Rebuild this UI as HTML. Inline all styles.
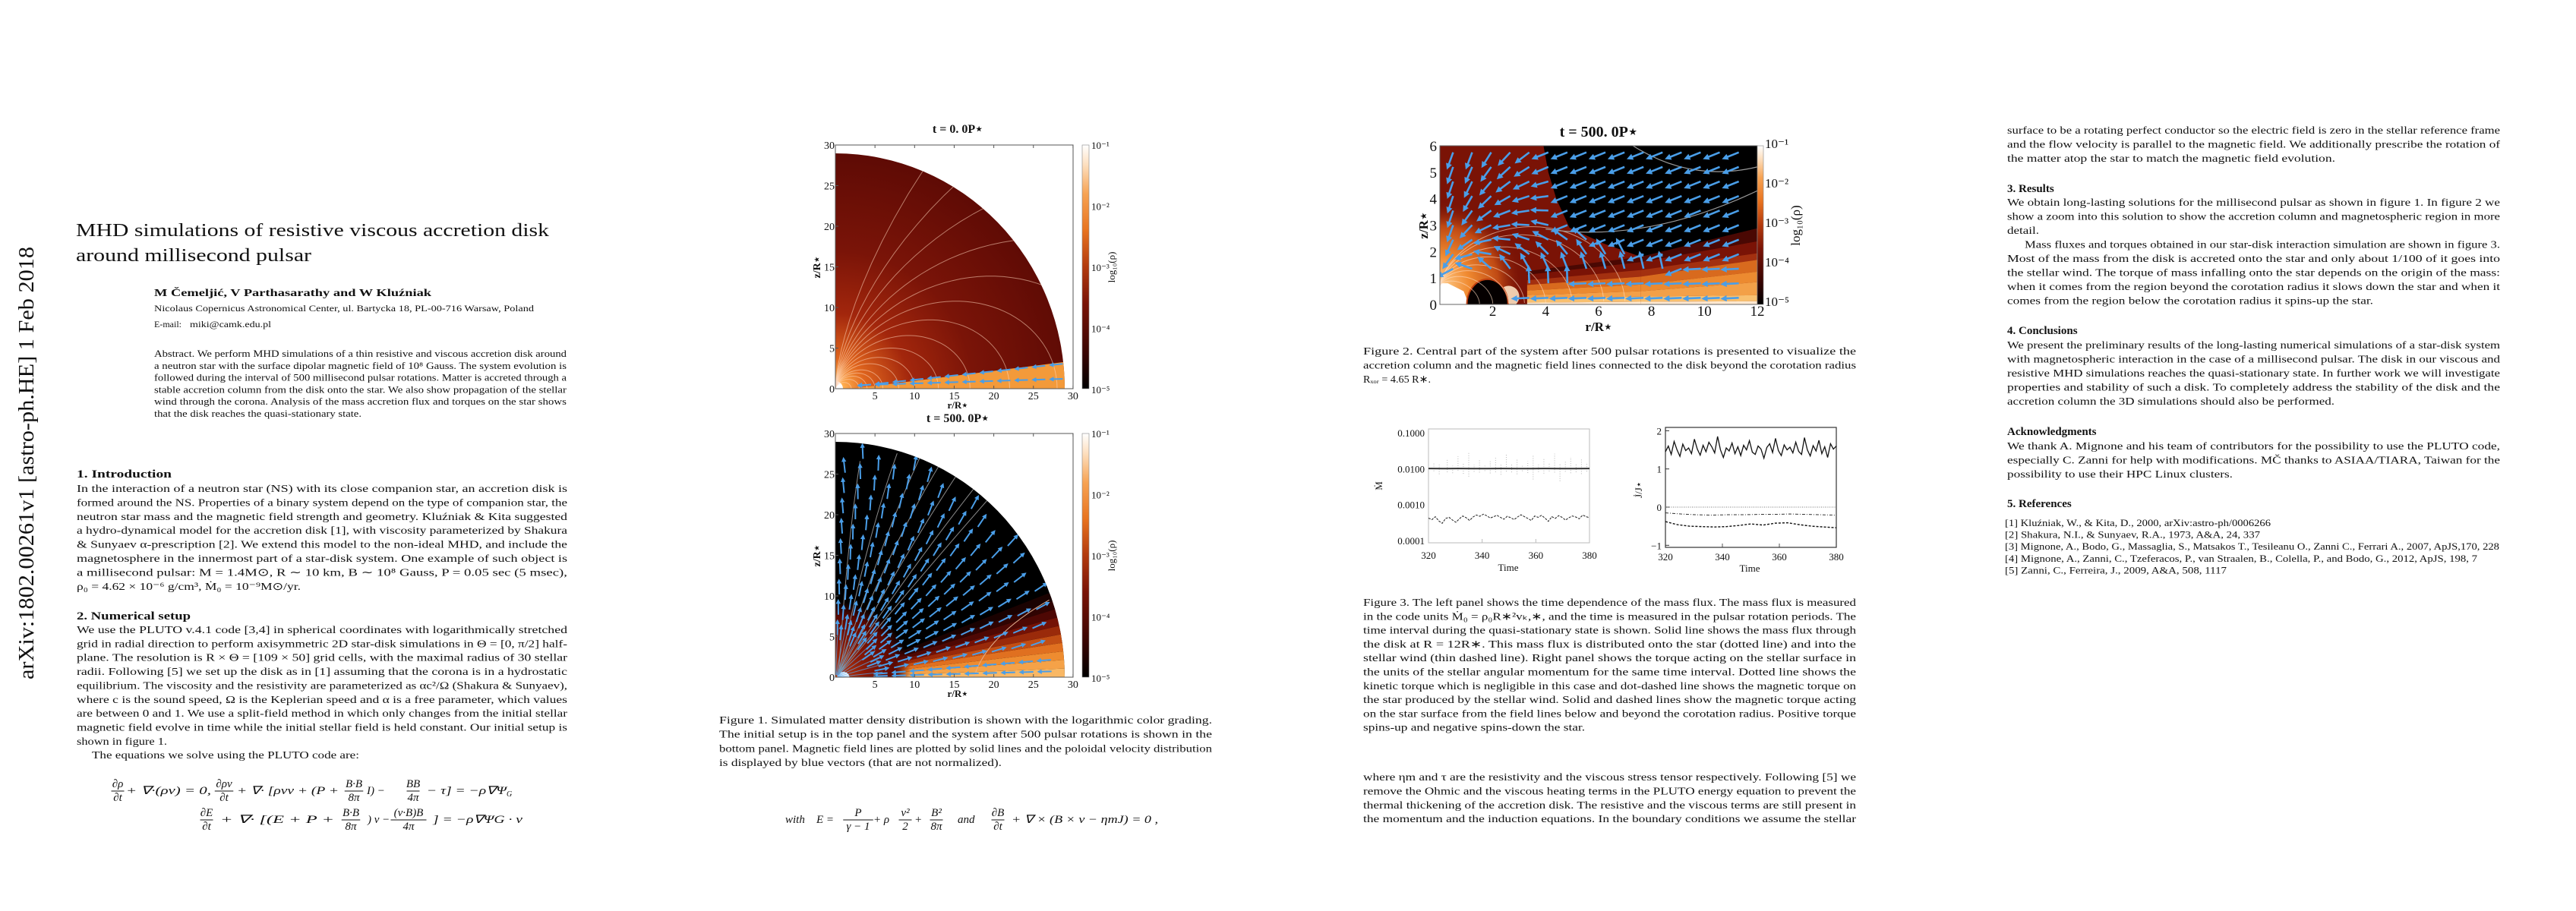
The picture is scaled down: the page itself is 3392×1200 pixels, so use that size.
<!DOCTYPE html>
<html><head><meta charset="utf-8"><title>MHD simulations of resistive viscous accretion disk</title>
<style>
html,body{margin:0;padding:0;background:#fff;}
svg{display:block;}
text{font-family:"Liberation Serif",serif;fill:#111;}
</style></head>
<body>
<svg id="page" xmlns="http://www.w3.org/2000/svg" width="3392" height="1200" viewBox="0 0 3392 1200">
<defs>
<linearGradient id="cbar" x1="0" y1="1" x2="0" y2="0">
<stop offset="0" stop-color="#000"/><stop offset="0.15" stop-color="#3a0502"/><stop offset="0.35" stop-color="#7a1306"/><stop offset="0.5" stop-color="#b23a0e"/><stop offset="0.65" stop-color="#e8731f"/><stop offset="0.8" stop-color="#f7a354"/><stop offset="0.92" stop-color="#fde0c0"/><stop offset="1" stop-color="#fff"/>
</linearGradient>
<radialGradient id="topgrad" gradientUnits="userSpaceOnUse" cx="1100" cy="512" r="330">
<stop offset="0" stop-color="#fff3d0"/><stop offset="0.03" stop-color="#ffb050"/><stop offset="0.12" stop-color="#e0661e"/><stop offset="0.3" stop-color="#a2260c"/><stop offset="0.55" stop-color="#7a1408"/><stop offset="1" stop-color="#5a0904"/>
</radialGradient>
<radialGradient id="botglow" gradientUnits="userSpaceOnUse" cx="1100" cy="892" r="100">
<stop offset="0" stop-color="#c04010"/><stop offset="0.4" stop-color="#8a1a08"/><stop offset="0.8" stop-color="#5a0904"/><stop offset="1" stop-color="#5a0904" stop-opacity="0"/>
</radialGradient>
<radialGradient id="f2glow" gradientUnits="userSpaceOnUse" cx="1896" cy="375" r="110">
<stop offset="0" stop-color="#ffd090"/><stop offset="0.35" stop-color="#f08a30"/><stop offset="0.7" stop-color="#c04a14"/><stop offset="1" stop-color="#7a1306" stop-opacity="0"/>
</radialGradient>
<marker id="ah" viewBox="0 0 10 10" refX="6" refY="5" markerWidth="3.2" markerHeight="3.2" orient="auto"><path d="M0,0 L10,5 L0,10 z" fill="#4a9ee8"/></marker>
<clipPath id="q1"><path d="M1100,512 L1100,202 A302,310 0 0 1 1402,512 Z"/></clipPath>
<clipPath id="q2"><path d="M1100,892 L1100,582 A302,310 0 0 1 1402,892 Z"/></clipPath>
<clipPath id="f2c"><rect x="1896" y="192" width="418" height="209"/></clipPath>
</defs>
<g id="layer"></g>
</svg>
<script>
// ---------- Figure 3 data ----------
const timeRange = [320, 380];
const mdotTicks = ["0.1000", "0.0100", "0.0010", "0.0001"];
const mdotTickVals = [0.1, 0.01, 0.001, 0.0001];
const timeTicks = [320, 340, 360, 380];
const torqueTicks = [2, 1, 0, -1];
const mdotDisk = [0.0101, 0.0100, 0.0101, 0.0100, 0.0100, 0.0101, 0.0100, 0.0100, 0.0101, 0.0100, 0.0100, 0.0101];
const mdotWind = [0.00042,0.00038,0.00046,0.00035,0.00030,0.00041,0.00044,0.00037,0.00032,0.00040,0.00048,0.00043,0.00036,0.00045,0.00051,0.00047,0.00054,0.00049,0.00042,0.00046,0.00050,0.00044,0.00039,0.00047,0.00043,0.00038,0.00045,0.00052,0.00046,0.00041,0.00036,0.00048,0.00044,0.00050,0.00042,0.00034,0.00046,0.00041,0.00049,0.00044,0.00037,0.00043,0.00048,0.00045,0.00040,0.00051,0.00046,0.00043];
const starSpikeT = [322,324,327,329,331,333,335,337,339,341,343,345,347,349,351,353,355,357,359,361,363,365,367,369,371,373,375,377,379];
const starSpikeLo = [0.0085,0.0070,0.0080,0.0075,0.0088,0.0072,0.0060,0.0082,0.0078,0.0086,0.0074,0.0080,0.0068,0.0083,0.0079,0.0070,0.0085,0.0076,0.0050,0.0081,0.0073,0.0084,0.0078,0.0045,0.0082,0.0075,0.0080,0.0071,0.0083];
const starSpikeHi = [0.015,0.013,0.018,0.012,0.022,0.014,0.030,0.013,0.017,0.012,0.016,0.020,0.013,0.025,0.014,0.018,0.012,0.016,0.024,0.013,0.019,0.015,0.026,0.014,0.017,0.021,0.013,0.018,0.015];
const torqueSolid = [1.45,1.60,1.38,1.72,1.50,1.33,1.65,1.48,1.55,1.40,1.78,1.52,1.36,1.62,1.45,1.70,1.58,1.42,1.85,1.50,1.30,1.55,1.47,1.68,1.40,1.58,1.35,1.62,1.50,1.74,1.44,1.38,1.60,1.52,1.28,1.56,1.66,1.43,1.80,1.48,1.35,1.63,1.50,1.57,1.42,1.70,1.46,1.38,1.82,1.50,1.34,1.61,1.47,1.75,1.40,1.58,1.30,1.66,1.52,1.60];
const torqueDashed = [-0.38,-0.46,-0.50,-0.51,-0.52,-0.51,-0.48,-0.44,-0.47,-0.42,-0.41,-0.46,-0.50,-0.52,-0.54];
const torqueDotDash = [-0.15,-0.18,-0.20,-0.21,-0.20,-0.20,-0.19,-0.19,-0.18,-0.19,-0.20,-0.21];
const torqueDotted = [0, 0];
// ---------- colorbar / axis tick labels ----------
const cbarLabels = ["10\u207B\u00B9","10\u207B\u00B2","10\u207B\u00B3","10\u207B\u2074","10\u207B\u2075"];
const fig1Ticks = [0,5,10,15,20,25,30];
const fig2XTicks = [2,4,6,8,10,12];
const fig2YTicks = [0,1,2,3,4,5,6];

const NS = 'http://www.w3.org/2000/svg';
const root = document.getElementById('layer');
function mk(tag, attrs, name, parent) {
  const el = document.createElementNS(NS, tag);
  for (const k in attrs) el.setAttribute(k, attrs[k]);
  
  
  (parent || root).appendChild(el);
  return el;
}
function txt(x, y, s, size, o, name, parent) {
  o = o || {};
  const a = {x: x, y: y, 'font-size': size};
  if (o.anchor) a['text-anchor'] = o.anchor;
  if (o.weight) a['font-weight'] = o.weight;
  if (o.style) a['font-style'] = o.style;
  if (o.fill) a.fill = o.fill;
  if (o.family) a['font-family'] = o.family;
  if (o.len) { a.textLength = o.len; a.lengthAdjust = 'spacingAndGlyphs'; }
  if (o.rot) a.transform = 'rotate(' + o.rot + ' ' + x + ' ' + y + ')';
  const el = mk('text', a, name, parent);
  el.textContent = s;
  return el;
}
function lines(arr, x, y0, dy, w, size, name) {
  arr.forEach((l, i) => {
    const s = typeof l === 'string' ? l : l[0];
    const full = typeof l === 'string';
    const xx = (typeof l !== 'string' && l[2]) ? l[2] : x;
    const len = full ? w : (l[1] ? l[1] - xx : 0);
    txt(xx, y0 + i * dy, s, size, len ? {len: len} : {}, name);
  });
}

// ---------- side arXiv stamp ----------
txt(44, 895, 'arXiv:1802.00261v1  [astro-ph.HE]  1 Feb 2018', 29, {rot: -90, fill: '#8a8a8a', len: 570}, 'arxiv-stamp');

// ---------- left column ----------
txt(100, 311, 'MHD simulations of resistive viscous accretion disk', 24, {len: 623}, 'paper-title');
txt(100, 344, 'around millisecond pulsar', 24, {len: 310}, 'paper-title');
txt(203, 390, 'M \u010Cemelji\u0107, V Parthasarathy and W Klu\u017Aniak', 14, {weight: 'bold', len: 365}, 'authors');
txt(203, 410, 'Nicolaus Copernicus Astronomical Center, ul. Bartycka 18, PL-00-716 Warsaw, Poland', 12, {len: 500}, 'affiliation');
txt(203, 431, 'E-mail: ', 12, {}, 'email-label');
txt(250, 431, 'miki@camk.edu.pl', 12, {family: '"Liberation Mono",monospace', len: 107}, 'email-address');
lines([
 'Abstract.   We perform MHD simulations of a thin resistive and viscous accretion disk around',
 'a neutron star with the surface dipolar magnetic field of 10\u2078 Gauss. The system evolution is',
 'followed during the interval of 500 millisecond pulsar rotations. Matter is accreted through a',
 'stable accretion column from the disk onto the star. We also show propagation of the stellar',
 'wind through the corona. Analysis of the mass accretion flux and torques on the star shows',
 ['that the disk reaches the quasi-stationary state.', 476]
], 203, 470, 15.8, 543, 12.5, 'abstract-text');
txt(101, 629, '1. Introduction', 15, {weight: 'bold', len: 125}, 'section-heading');
lines([
 'In the interaction of a neutron star (NS) with its close companion star, an accretion disk is',
 'formed around the NS. Properties of a binary system depend on the type of companion star, the',
 'neutron star mass and the magnetic field strength and geometry. Klu\u017Aniak & Kita suggested',
 'a hydro-dynamical model for the accretion disk [1], with viscosity parameterized by Shakura',
 '& Sunyaev \u03B1-prescription [2]. We extend this model to the non-ideal MHD, and include the',
 'magnetosphere in the innermost part of a star-disk system. One example of such object is',
 'a millisecond pulsar: M = 1.4M\u2299, R \u223C 10 km, B \u223C 10\u2078 Gauss, P = 0.05 sec (5 msec),',
 ['\u03C1\u2080 = 4.62 \u00D7 10\u207B\u2076 g/cm\u00B3, \u1E40\u2080 = 10\u207B\u2079M\u2299/yr.', 396]
], 101, 648, 18.4, 646, 14, 'introduction-text');
txt(101, 816, '2. Numerical setup', 15, {weight: 'bold', len: 150}, 'section-heading');
lines([
 'We use the PLUTO v.4.1 code [3,4] in spherical coordinates with logarithmically stretched',
 'grid in radial direction to perform axisymmetric 2D star-disk simulations in \u0398 = [0, \u03C0/2] half-',
 'plane. The resolution is R \u00D7 \u0398 = [109 \u00D7 50] grid cells, with the maximal radius of 30 stellar',
 'radii. Following [5] we set up the disk as in [1] assuming that the corona is in a hydrostatic',
 'equilibrium. The viscosity and the resistivity are parameterized as \u03B1c\u00B2/\u03A9 (Shakura & Sunyaev),',
 'where c is the sound speed, \u03A9 is the Keplerian speed and \u03B1 is a free parameter, which values',
 'are between 0 and 1. We use a split-field method in which only changes from the initial stellar',
 'magnetic field evolve in time while the initial stellar field is held constant. Our initial setup is',
 ['shown in figure 1.', 220],
 ['The equations we solve using the PLUTO code are:', 473, 121]
], 101, 834, 18.35, 646, 14, 'setup-text');

function frac(xc, yc, num, den, size, name) {
  txt(xc, yc - 4, num, size, {anchor: 'middle', style: 'italic'}, name);
  txt(xc, yc + 14, den, size, {anchor: 'middle', style: 'italic'}, name);
  const w = Math.max(num.length, den.length) * size * 0.5 + 2;
  mk('line', {x1: xc - w / 2, x2: xc + w / 2, y1: yc + 1, y2: yc + 1, stroke: '#111', 'stroke-width': 0.9}, name + '-bar');
}
frac(155, 1041, '\u2202\u03C1', '\u2202t', 15, 'equation-continuity');
txt(166, 1046, '+ \u2207\u00B7(\u03C1v) = 0,', 15, {style: 'italic', len: 112}, 'equation-continuity');
frac(295, 1041, '\u2202\u03C1v', '\u2202t', 15, 'equation-momentum');
txt(312, 1046, '+ \u2207\u00B7 [\u03C1vv + (P +', 15, {style: 'italic', len: 134}, 'equation-momentum');
frac(466, 1041, 'B\u00B7B', '8\u03C0', 15, 'equation-momentum');
txt(483, 1046, 'I) \u2212', 15, {style: 'italic'}, 'equation-momentum');
frac(544, 1041, 'BB', '4\u03C0', 15, 'equation-momentum');
txt(562, 1046, '\u2212 \u03C4] = \u2212\u03C1\u2207\u03A8', 15, {style: 'italic', len: 105}, 'equation-momentum');
txt(667, 1049, 'G', 10, {style: 'italic'}, 'equation-momentum');
frac(272, 1079, '\u2202E', '\u2202t', 15, 'equation-energy');
txt(290, 1084, '+ \u2207\u00B7 [(E + P +', 15, {style: 'italic', len: 150}, 'equation-energy');
frac(462, 1079, 'B\u00B7B', '8\u03C0', 15, 'equation-energy');
txt(484, 1084, ') v \u2212', 15, {style: 'italic'}, 'equation-energy');
frac(538, 1079, '(v\u00B7B)B', '4\u03C0', 15, 'equation-energy');
txt(570, 1084, '] = \u2212\u03C1\u2207\u03A8G \u00B7 v', 15, {style: 'italic', len: 118}, 'equation-energy');

// ---------- Figure 1 ----------
function fig1Panel(y0, late, clip) {
  const X = r => 1100 + r * 10.43;
  const Y = z => y0 - z * 10.7;
  const P = (r, a) => [X(r * Math.cos(a * Math.PI / 180)), Y(r * Math.sin(a * Math.PI / 180))];
  const g = mk('g', {'clip-path': 'url(#' + clip + ')'}, late ? 'density-map-late' : 'density-map-initial');
  mk('rect', {x: 1100, y: y0 - 320, width: 320, height: 320, fill: late ? '#000' : 'url(#topgrad)'}, 'density-background', g);
  if (!late) {
    const a = P(2.5, 0), b = P(30, 0), c = P(30, 6.5), d = P(2.5, 1);
    mk('polygon', {points: [a, b, c, d].map(p => p.join(',')).join(' '), fill: '#f39a3a'}, 'accretion-disk', g);
    mk('circle', {cx: 1100, cy: y0, r: 10, fill: '#fff'}, 'star', g);
    [2, 3, 4, 5, 6, 8, 10, 13, 17, 22, 28, 36, 48, 70, 110, 200].forEach(L => {
      let d = '';
      for (let t = 0; t <= 90; t += 1.5) {
        const th = t * Math.PI / 180, r = L * Math.sin(th) ** 2;
        d += (d ? 'L' : 'M') + X(r * Math.sin(th)).toFixed(1) + ',' + Y(r * Math.cos(th)).toFixed(1);
      }
      mk('path', {d: d, fill: 'none', stroke: 'rgba(255,215,190,0.55)', 'stroke-width': 1}, 'field-line', g);
    });
    for (let r = 3; r < 28; r += 2.2) {
      [[0.105, 0.05], [0.03, 0.35]].forEach(([k, c0]) => {
        const x1 = r + 1.5, x2 = r;
        mk('line', {x1: X(x1), y1: Y(k * x1 + c0), x2: X(x2), y2: Y(k * x2 + c0), stroke: '#4a9ee8', 'stroke-width': 2, 'marker-end': 'url(#ah)'}, 'velocity-arrow', g);
      });
    }
  } else {
    const bands = ['#f9b865', '#f5a248', '#ee8c30', '#e07020', '#c24e14', '#9a2a0a', '#741206', '#4e0804', '#300402', '#1a0201'];
    bands.forEach((col, i) => {
      const a0 = i * 2.1, a1 = (i + 1) * 2.1;
      const pts = [P(4, a0), P(31, a0), P(31, a1), P(4, a1)];
      mk('polygon', {points: pts.map(p => p.join(',')).join(' '), fill: col}, 'density-band', g);
    });
    mk('rect', {x: 1100, y: y0 - 100, width: 100, height: 100, fill: 'url(#botglow)'}, 'inner-glow', g);
    mk('ellipse', {cx: X(1), cy: y0, rx: 8, ry: 7, fill: '#fff'}, 'star', g);
    [[3, 28, 4], [8, 29, 10], [12, 29, 14], [15, 29, 18], [20, 29, 22], [24, 28, 26], [27, 26, 28]].forEach(([xb, zt, xt]) => {
      mk('path', {d: 'M' + X(0.4) + ',' + Y(0.3) + ' Q' + X(xb * 0.5) + ',' + Y(zt * 0.6) + ' ' + X(xt * 0.78) + ',' + Y(zt * 0.95), fill: 'none', stroke: '#8a8a8a', 'stroke-width': 1}, 'field-line', g);
    });
    mk('path', {d: 'M' + X(17.5) + ',' + Y(0) + ' Q' + X(19) + ',' + Y(5) + ' ' + X(27) + ',' + Y(9.5), fill: 'none', stroke: '#e0b090', 'stroke-width': 1}, 'field-line', g);
    for (let a = 4; a < 90; a += 9) {
      const p1 = P(0.3, a), p2 = P(6, a + 2);
      mk('line', {x1: p1[0], y1: p1[1], x2: p2[0], y2: p2[1], stroke: '#58a8f0', 'stroke-width': 1, opacity: 0.7}, 'inner-flow-line', g);
    }
    for (let a = 9; a < 88; a += 4.6) for (let r = 4 + (a % 2); r < 27.5; r += 2.5) {
      const p1 = P(r, a), p2 = P(r + 1.7, a + 0.6);
      mk('line', {x1: p1[0], y1: p1[1], x2: p2[0], y2: p2[1], stroke: '#4a9ee8', 'stroke-width': 2, 'marker-end': 'url(#ah)'}, 'velocity-arrow', g);
    }
    [1.5, 4.5].forEach(a => { for (let r = 5; r < 28; r += 2.3) {
      const p1 = P(r + 1.6, a), p2 = P(r, a);
      mk('line', {x1: p1[0], y1: p1[1], x2: p2[0], y2: p2[1], stroke: '#4a9ee8', 'stroke-width': 2, 'marker-end': 'url(#ah)'}, 'velocity-arrow', g);
    }});
  }
  mk('rect', {x: 1100, y: y0 - 321, width: 313, height: 321, fill: 'none', stroke: '#555', 'stroke-width': 1}, 'plot-frame');
  fig1Ticks.forEach(v => {
    mk('line', {x1: X(v), x2: X(v), y1: y0, y2: y0 - 4, stroke: '#555'}, 'x-tick');
    mk('line', {x1: X(v), x2: X(v), y1: y0 - 321, y2: y0 - 317, stroke: '#555'}, 'x-tick');
    mk('line', {x1: 1100, x2: 1104, y1: Y(v), y2: Y(v), stroke: '#555'}, 'y-tick');
    if (v > 0) txt(X(v), y0 + 14, String(v), 14, {anchor: 'middle'}, 'x-tick-label');
    txt(1099, Y(v) + 5, String(v), 14, {anchor: 'end'}, 'y-tick-label');
  });
  txt(1080, y0 - 160, 'z/R\u22C6', 14, {weight: 'bold', rot: -90, anchor: 'middle'}, 'y-axis-title');
  txt(1261, y0 + 26, 'r/R\u22C6', 13, {weight: 'bold', anchor: 'middle'}, 'x-axis-title');
  mk('rect', {x: 1425, y: y0 - 321, width: 9, height: 321, fill: 'url(#cbar)', stroke: '#888', 'stroke-width': 0.6}, 'colorbar');
  cbarLabels.forEach((s, i) => txt(1437, y0 - 321 + i * 80.5 + 5, s, 13, {}, 'colorbar-label'));
  txt(1468, y0 - 160, 'log\u2081\u2080(\u03C1)', 13, {rot: -90, anchor: 'middle'}, 'colorbar-title');
}
txt(1261, 175, 't = 0. 0P\u22C6', 16, {weight: 'bold', anchor: 'middle'}, 'panel-title');
fig1Panel(512, false, 'q1');
txt(1261, 556, 't = 500. 0P\u22C6', 16, {weight: 'bold', anchor: 'middle'}, 'panel-title');
fig1Panel(892, true, 'q2');
lines([
 'Figure 1.  Simulated matter density distribution is shown with the logarithmic color grading.',
 'The initial setup is in the top panel and the system after 500 pulsar rotations is shown in the',
 'bottom panel. Magnetic field lines are plotted by solid lines and the poloidal velocity distribution',
 ['is displayed by blue vectors (that are not normalized).', 1319]
], 947, 953, 18.7, 649, 14, 'figure1-caption');
txt(1034, 1084, 'with', 15, {style: 'italic'}, 'equation-definitions');
txt(1075, 1084, 'E =', 15, {style: 'italic'}, 'equation-definitions');
frac(1130, 1079, 'P', '\u03B3 \u2212 1', 15, 'equation-definitions');
txt(1150, 1084, '+ \u03C1', 15, {style: 'italic'}, 'equation-definitions');
frac(1192, 1079, 'v\u00B2', '2', 15, 'equation-definitions');
txt(1205, 1084, '+', 15, {}, 'equation-definitions');
frac(1233, 1079, 'B\u00B2', '8\u03C0', 15, 'equation-definitions');
txt(1261, 1084, 'and', 15, {style: 'italic'}, 'equation-definitions');
frac(1314, 1079, '\u2202B', '\u2202t', 15, 'equation-induction');
txt(1332, 1084, '+ \u2207 \u00D7 (B \u00D7 v \u2212 \u03B7mJ) = 0 ,', 15, {style: 'italic', len: 193}, 'equation-induction');

// ---------- Figure 2 ----------
(function () {
  const X = r => 1896 + r * 34.83;
  const Y = z => 401 - z * 34.83;
  const pts = a => a.map(p => X(p[0]).toFixed(1) + ',' + Y(p[1]).toFixed(1)).join(' ');
  const g = mk('g', {'clip-path': 'url(#f2c)'}, 'zoomed-density-map');
  mk('rect', {x: 1896, y: 192, width: 418, height: 209, fill: '#7a1306'}, 'density-background', g);
  mk('rect', {x: 1896, y: 192, width: 160, height: 209, fill: 'url(#f2glow)'}, 'column-glow', g);
  mk('polygon', {points: pts([[3.9, 6.1], [12.1, 6.1], [12.1, 2.9], [7.6, 1.8], [6.2, 2.3], [4.9, 2.9], [4.4, 4], [4.1, 5]]), fill: '#000'}, 'low-density-region', g);
  const bandCols = ['#4a0803', '#7a1306', '#a33010', '#d86a1e', '#ec8a30', '#f3a048', '#f8c070', '#fde8d0'];
  const rightZ = [2.9, 2.4, 1.95, 1.7, 1.25, 0.85, 0.35, 0.12, 0];
  const leftZ = [1.8, 1.6, 1.3, 1.05, 0.75, 0.5, 0.3, 0.1, 0];
  bandCols.forEach((c, i) => {
    mk('polygon', {points: pts([[7.6, leftZ[i]], [12.1, rightZ[i]], [12.1, rightZ[i + 1]], [7.6, leftZ[i + 1]]]), fill: c}, 'density-band', g);
    mk('polygon', {points: pts([[3.3, leftZ[i] * 0.7], [7.6, leftZ[i]], [7.6, leftZ[i + 1]], [3.3, leftZ[i + 1] * 0.7]]), fill: c}, 'density-band', g);
  });
  mk('polygon', {points: pts([[0, 0], [1.1, 0], [0.9, 0.5], [0.3, 0.8], [0, 0.8]]), fill: '#fff'}, 'stellar-surface', g);
  mk('ellipse', {cx: X(2.6), cy: Y(0.3), rx: 14, ry: 14, fill: '#fbe0c0', opacity: 0.9}, 'hot-spot', g);
  mk('ellipse', {cx: X(1.8), cy: Y(0), rx: 0.78 * 34.83, ry: 0.95 * 34.83, fill: '#050000', stroke: '#c04010', 'stroke-width': 2}, 'stellar-cavity', g);
  [1.5, 2, 2.6, 3.2, 4, 5, 6.2, 7].forEach(L => {
    let d = '';
    for (let t = 5; t <= 90; t += 1.5) {
      const th = t * Math.PI / 180, r = L * Math.sin(th) ** 2;
      d += (d ? 'L' : 'M') + X(r * Math.sin(th)).toFixed(1) + ',' + Y(r * Math.cos(th) + 0.7 * (1 - r / L)).toFixed(1);
    }
    mk('path', {d: d, fill: 'none', stroke: 'rgba(255,220,195,0.6)', 'stroke-width': 1}, 'field-line', g);
  });
  mk('path', {d: 'M' + X(4) + ',' + Y(2.85) + ' Q' + X(7.8) + ',' + Y(2.3) + ' ' + X(12) + ',' + Y(4.3), fill: 'none', stroke: '#9a9a9a', 'stroke-width': 1.2}, 'field-line', g);
  mk('path', {d: 'M' + X(7.3) + ',' + Y(6) + ' Q' + X(9.5) + ',' + Y(4.6) + ' ' + X(12) + ',' + Y(5.2), fill: 'none', stroke: '#9a9a9a', 'stroke-width': 1.2}, 'field-line', g);
  for (let x = 0.5; x < 12; x += 0.72) for (let z = 0.25; z < 6; z += 0.55) {
    let dx, dz;
    const blackB = z > 2.9 ? 3.9 + (6 - z) * 0.25 : 4.9 + (2.9 - z) * 2.4;
    const diskTop = x > 3 ? 0.12 * x + 0.2 : 0;
    if (x > 3 && z < diskTop) { dx = -0.6; dz = -0.03; }
    else if (x > blackB) { dx = -0.55; dz = -0.22; }
    else {
      const r = Math.hypot(x, z - 0.75), th = Math.atan2(x, z - 0.75);
      const L = r / Math.max(Math.sin(th) ** 2, 0.05);
      const rp = 2 * L * Math.sin(th) * Math.cos(th);
      dx = -(rp * Math.sin(th) + r * Math.cos(th)); dz = -(rp * Math.cos(th) - r * Math.sin(th));
      const n = Math.hypot(dx, dz) || 1; dx = dx / n * 0.6; dz = dz / n * 0.6;
      if (z < 0.9 && x < 2.7) continue;
    }
    mk('line', {x1: X(x), y1: Y(z), x2: X(x + dx), y2: Y(z + dz), stroke: '#4a9ee8', 'stroke-width': 2.6, 'marker-end': 'url(#ah)'}, 'velocity-arrow', g);
  }
  mk('rect', {x: 1896, y: 192, width: 418, height: 209, fill: 'none', stroke: '#666', 'stroke-width': 1}, 'plot-frame');
  fig2XTicks.forEach(v => txt(X(v), 416, String(v), 19, {anchor: 'middle'}, 'x-tick-label'));
  fig2YTicks.forEach(v => txt(1892, Y(v) + 7, String(v), 19, {anchor: 'end'}, 'y-tick-label'));
  txt(1880, 297, 'z/R\u22C6', 17, {weight: 'bold', rot: -90, anchor: 'middle'}, 'y-axis-title');
  txt(2105, 436, 'r/R\u22C6', 17, {weight: 'bold', anchor: 'middle'}, 'x-axis-title');
  mk('rect', {x: 2314, y: 192, width: 8, height: 209, fill: 'url(#cbar)', stroke: '#888', 'stroke-width': 0.6}, 'colorbar');
  cbarLabels.forEach((s, i) => txt(2324, 195 + i * 52, s, 17, {}, 'colorbar-label'));
  txt(2370, 297, 'log\u2081\u2080(\u03C1)', 17, {rot: -90, anchor: 'middle'}, 'colorbar-title');
  txt(2105, 180, 't = 500. 0P\u22C6', 20, {weight: 'bold', anchor: 'middle'}, 'panel-title');
})();
lines([
 'Figure 2.  Central part of the system after 500 pulsar rotations is presented to visualize the',
 'accretion column and the magnetic field lines connected to the disk beyond the corotation radius',
 ['R\u2093\u2092\u1D63 = 4.65  R\u2217.', 1884]
], 1795, 467, 18.5, 649, 14, 'figure2-caption');

// ---------- Figure 3 ----------
(function () {
  const xL = t => 1881 + (t - timeRange[0]) / (timeRange[1] - timeRange[0]) * 212;
  const yL = v => 570 + (-1 - Math.log10(v)) * 47.3;
  const xR = t => 2193 + (t - timeRange[0]) / (timeRange[1] - timeRange[0]) * 225;
  const yR = v => 668 - v * 50.3;
  const tAt = (i, n) => timeRange[0] + i * (timeRange[1] - timeRange[0]) / (n - 1);
  const gray = '#a8a8a8';
  mk('rect', {x: 1881, y: 565, width: 212, height: 150, fill: 'none', stroke: '#bbb', 'stroke-width': 1}, 'mass-flux-frame');
  mdotTicks.forEach((s, i) => txt(1876, yL(mdotTickVals[i]) + 5, s, 13, {anchor: 'end', fill: gray, family: '"Liberation Sans",sans-serif'}, 'y-tick-label'));
  timeTicks.forEach(t => {
    txt(xL(t), 736, String(t), 13, {anchor: 'middle', fill: gray, family: '"Liberation Sans",sans-serif'}, 'x-tick-label');
    mk('line', {x1: xL(t), x2: xL(t), y1: 715, y2: 710, stroke: '#bbb'}, 'x-tick');
    txt(xR(t), 738, String(t), 13, {anchor: 'middle', fill: gray, family: '"Liberation Sans",sans-serif'}, 'x-tick-label');
    mk('line', {x1: xR(t), x2: xR(t), y1: 721, y2: 716, stroke: '#555'}, 'x-tick');
  });
  txt(1986, 752, 'Time', 13, {anchor: 'middle', fill: gray, family: '"Liberation Sans",sans-serif'}, 'x-axis-title');
  txt(1820, 640, '\u1E40', 13, {anchor: 'middle', fill: gray, rot: -90, family: '"Liberation Sans",sans-serif'}, 'y-axis-title');
  starSpikeT.forEach((t, i) => mk('line', {x1: xL(t), x2: xL(t), y1: yL(starSpikeLo[i]), y2: yL(starSpikeHi[i]), stroke: '#b5b5b5', 'stroke-width': 1, 'stroke-dasharray': '1 2'}, 'star-accretion-spike'));
  mk('polyline', {points: mdotDisk.map((v, i) => xL(tAt(i, mdotDisk.length)) + ',' + yL(v)).join(' '), fill: 'none', stroke: '#333', 'stroke-width': 2}, 'disk-mass-flux-line');
  mk('polyline', {points: mdotWind.map((v, i) => xL(tAt(i, mdotWind.length)) + ',' + yL(v)).join(' '), fill: 'none', stroke: '#222', 'stroke-width': 1, 'stroke-dasharray': '3 1.5'}, 'wind-mass-flux-line');
  mk('rect', {x: 2193, y: 563, width: 225, height: 158, fill: 'none', stroke: '#333', 'stroke-width': 1.2}, 'torque-frame');
  torqueTicks.forEach(v => {
    txt(2188, yR(v) + 5, String(v).replace('-', '\u2212'), 13, {anchor: 'end', fill: gray, family: '"Liberation Sans",sans-serif'}, 'y-tick-label');
    mk('line', {x1: 2193, x2: 2198, y1: yR(v), y2: yR(v), stroke: '#333'}, 'y-tick');
  });
  txt(2304, 753, 'Time', 13, {anchor: 'middle', fill: gray, family: '"Liberation Sans",sans-serif'}, 'x-axis-title');
  txt(2162, 645, 'J\u0307/J\u22C6', 13, {anchor: 'middle', fill: gray, rot: -90, family: '"Liberation Sans",sans-serif'}, 'y-axis-title');
  mk('polyline', {points: torqueSolid.map((v, i) => xR(tAt(i, torqueSolid.length)) + ',' + yR(v)).join(' '), fill: 'none', stroke: '#111', 'stroke-width': 1.3}, 'torque-below-corotation-line');
  mk('polyline', {points: torqueDotted.map((v, i) => xR(tAt(i, torqueDotted.length)) + ',' + yR(v)).join(' '), fill: 'none', stroke: '#777', 'stroke-width': 1, 'stroke-dasharray': '1 1.5'}, 'kinetic-torque-line');
  mk('polyline', {points: torqueDotDash.map((v, i) => xR(tAt(i, torqueDotDash.length)) + ',' + yR(v)).join(' '), fill: 'none', stroke: '#333', 'stroke-width': 1, 'stroke-dasharray': '4 2 1 2'}, 'wind-torque-line');
  mk('polyline', {points: torqueDashed.map((v, i) => xR(tAt(i, torqueDashed.length)) + ',' + yR(v)).join(' '), fill: 'none', stroke: '#111', 'stroke-width': 1.4, 'stroke-dasharray': '3 2'}, 'torque-beyond-corotation-line');
})();
lines([
 'Figure 3.  The left panel shows the time dependence of the mass flux. The mass flux is measured',
 'in the code units \u1E40\u2080 = \u03C1\u2080R\u2217\u00B2v\u2096,\u2217, and the time is measured in the pulsar rotation periods. The',
 'time interval during the quasi-stationary state is shown. Solid line shows the mass flux through',
 'the disk at R = 12R\u2217. This mass flux is distributed onto the star (dotted line) and into the',
 'stellar wind (thin dashed line). Right panel shows the torque acting on the stellar surface in',
 'the units of the stellar angular momentum for the same time interval. Dotted line shows the',
 'kinetic torque which is negligible in this case and dot-dashed line shows the magnetic torque on',
 'the star produced by the stellar wind. Solid and dashed lines show the magnetic torque acting',
 'on the star surface from the field lines below and beyond the corotation radius. Positive torque',
 ['spins-up and negative spins-down the star.', 2087]
], 1795, 798, 18.3, 649, 14, 'figure3-caption');
lines([
 'where \u03B7m and \u03C4 are the resistivity and the viscous stress tensor respectively. Following [5] we',
 'remove the Ohmic and the viscous heating terms in the PLUTO energy equation to prevent the',
 'thermal thickening of the accretion disk. The resistive and the viscous terms are still present in',
 'the momentum and the induction equations. In the boundary conditions we assume the stellar'
], 1795, 1028, 18.4, 649, 14, 'boundary-conditions-text');

// ---------- right column ----------
lines([
 'surface to be a rotating perfect conductor so the electric field is zero in the stellar reference frame',
 'and the flow velocity is parallel to the magnetic field. We additionally prescribe the rotation of',
 ['the matter atop the star to match the magnetic field evolution.', 3075]
], 2643, 176, 18.5, 649, 14, 'boundary-conditions-text');
txt(2643, 253, '3.  Results', 15, {weight: 'bold'}, 'section-heading');
lines([
 'We obtain long-lasting solutions for the millisecond pulsar as shown in figure 1. In figure 2 we',
 'show a zoom into this solution to show the accretion column and magnetospheric region in more',
 ['detail.', 2685],
 ['Mass fluxes and torques obtained in our star-disk interaction simulation are shown in figure 3.', 3292, 2666],
 'Most of the mass from the disk is accreted onto the star and only about 1/100 of it goes into',
 'the stellar wind. The torque of mass infalling onto the star depends on the origin of the mass:',
 'when it comes from the region beyond the corotation radius it slows down the star and when it',
 ['comes from the region below the corotation radius it spins-up the star.', 3125]
], 2643, 271, 18.5, 649, 14, 'results-text');
txt(2643, 440, '4.  Conclusions', 15, {weight: 'bold'}, 'section-heading');
lines([
 'We present the preliminary results of the long-lasting numerical simulations of a star-disk system',
 'with magnetospheric interaction in the case of a millisecond pulsar. The disk in our viscous and',
 'resistive MHD simulations reaches the quasi-stationary state. In further work we will investigate',
 'properties and stability of such a disk. To completely address the stability of the disk and the',
 ['accretion column the 3D simulations should also be performed.', 3074]
], 2643, 459, 18.5, 649, 14, 'conclusions-text');
txt(2643, 573, 'Acknowledgments', 15, {weight: 'bold'}, 'section-heading');
lines([
 'We thank A. Mignone and his team of contributors for the possibility to use the PLUTO code,',
 'especially C. Zanni for help with modifications. M\u010C thanks to ASIAA/TIARA, Taiwan for the',
 ['possibility to use their HPC Linux clusters.', 2940]
], 2643, 592, 18.5, 649, 14, 'acknowledgments-text');
txt(2643, 668, '5.  References', 15, {weight: 'bold'}, 'section-heading');
lines([
 ['[1]  Klu\u017Aniak, W., & Kita, D., 2000, arXiv:astro-ph/0006266', 2990],
 ['[2]  Shakura, N.I., & Sunyaev, R.A., 1973, A&A, 24, 337', 2976],
 ['[3]  Mignone, A., Bodo, G., Massaglia, S., Matsakos T., Tesileanu O., Zanni C., Ferrari A., 2007, ApJS,170, 228', 3291],
 ['[4]  Mignone, A., Zanni, C., Tzeferacos, P., van Straalen, B., Colella, P., and Bodo, G., 2012, ApJS, 198, 7', 3262],
 ['[5]  Zanni, C., Ferreira, J., 2009, A&A, 508, 1117', 2932]
], 2640, 693, 15.6, 649, 12.5, 'reference-entry');
</script>
</body></html>
